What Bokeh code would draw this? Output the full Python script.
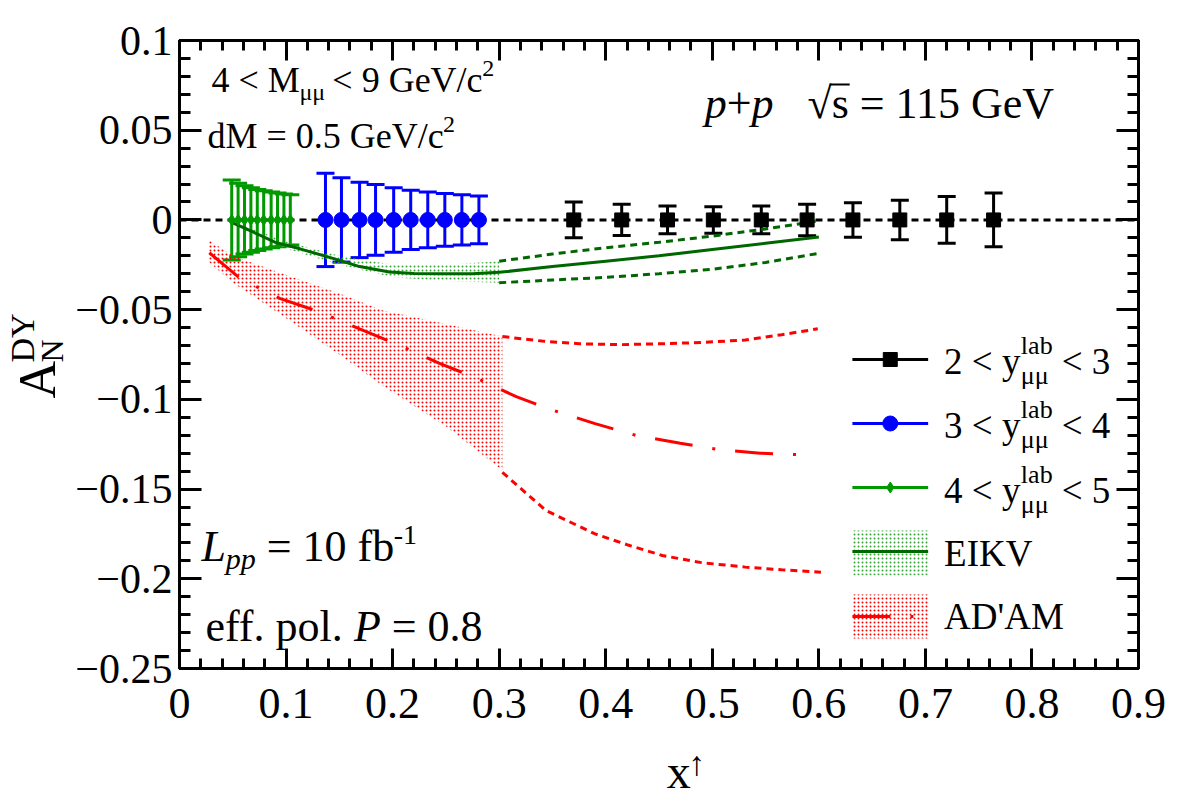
import numpy as np
from bokeh.plotting import figure
from bokeh.layouts import row, column
from bokeh.models import (Range1d, LinearAxis, FixedTicker, Label, Whisker,
                          TeeHead, ColumnDataSource, CustomLabelingPolicy)
from bokeh.embed import file_html
from bokeh.resources import INLINE

# ---------------- axis ticks ----------------
x_major = [0.0, 0.1, 0.2, 0.3, 0.4, 0.5, 0.6, 0.7, 0.8, 0.9]
x_labels = ["0", "0.1", "0.2", "0.3", "0.4", "0.5", "0.6", "0.7", "0.8", "0.9"]
y_major = [-0.25, -0.2, -0.15, -0.1, -0.05, 0.0, 0.05, 0.1]
y_labels = ["\u22120.25", "\u22120.2", "\u22120.15", "\u22120.1", "\u22120.05", "0", "0.05", "0.1"]

# ---------------- projected data points ----------------
# 2 < y_lab < 3
x_y23 = [0.370, 0.415, 0.458, 0.501, 0.546, 0.589, 0.632, 0.676, 0.720, 0.764]
a_y23 = [0.0, 0.0, 0.0, 0.0, 0.0, 0.0, 0.0, 0.0, 0.0, 0.0]
e_y23 = [0.0100, 0.0087, 0.0077, 0.0074, 0.0077, 0.0088, 0.0096, 0.0110, 0.0130, 0.0150]
# 3 < y_lab < 4
x_y34 = [0.137, 0.152, 0.169, 0.184, 0.201, 0.217, 0.233, 0.249, 0.265, 0.281]
a_y34 = [0.0, 0.0, 0.0, 0.0, 0.0, 0.0, 0.0, 0.0, 0.0, 0.0]
e_y34 = [0.0260, 0.0235, 0.0210, 0.0197, 0.0180, 0.0165, 0.0155, 0.0147, 0.0140, 0.0133]
# 4 < y_lab < 5
x_y45 = [0.049, 0.055, 0.061, 0.067, 0.073, 0.079, 0.086, 0.092, 0.098, 0.104]
a_y45 = [0.0, 0.0, 0.0, 0.0, 0.0, 0.0, 0.0, 0.0, 0.0, 0.0]
e_y45 = [0.0223, 0.0205, 0.0190, 0.0180, 0.0170, 0.0162, 0.0155, 0.0150, 0.0145, 0.0140]

# ---------------- EIKV prediction ----------------
eikv_x = [0.05, 0.07, 0.09, 0.113, 0.144, 0.169, 0.197, 0.22, 0.244, 0.275, 0.30,
          0.35, 0.40, 0.45, 0.50, 0.55, 0.60]
eikv_y = [-0.0017, -0.0070, -0.0125, -0.0161, -0.0214, -0.0260, -0.0290, -0.0298, -0.0300,
          -0.0300, -0.0292, -0.0260, -0.0230, -0.0200, -0.0165, -0.0130, -0.0095]
eikv_band_x = [0.05, 0.10, 0.15, 0.20, 0.25, 0.30]
eikv_band_lo = [-0.0025, -0.0160, -0.0250, -0.0320, -0.0340, -0.0350]
eikv_band_hi = [-0.0010, -0.0120, -0.0200, -0.0250, -0.0250, -0.0230]
eikv_ext_x = [0.30, 0.35, 0.40, 0.45, 0.50, 0.55, 0.60]
eikv_ext_hi = [-0.0230, -0.0190, -0.0155, -0.0125, -0.0090, -0.0050, -0.0005]
eikv_ext_lo = [-0.0350, -0.0335, -0.0320, -0.0300, -0.0275, -0.0237, -0.0186]

# ---------------- AD'AM prediction ----------------
adam_x = [0.028, 0.057, 0.094, 0.130, 0.169, 0.203, 0.244, 0.277, 0.316, 0.350, 0.390,
          0.428, 0.470, 0.506, 0.545, 0.587]
adam_y = [-0.0183, -0.0326, -0.0437, -0.0510, -0.0607, -0.0690, -0.0800, -0.0877, -0.0985,
          -0.1060, -0.1135, -0.1200, -0.1245, -0.1280, -0.1300, -0.1310]
adam_band_x = [0.027, 0.050, 0.097, 0.150, 0.191, 0.250, 0.303]
adam_band_hi = [-0.0110, -0.0200, -0.0300, -0.0410, -0.0505, -0.0580, -0.0650]
adam_band_lo = [-0.0230, -0.0350, -0.0535, -0.0750, -0.0925, -0.1150, -0.1395]
adam_hi_x = [0.303, 0.340, 0.375, 0.415, 0.453, 0.490, 0.531, 0.565, 0.599]
adam_hi_y = [-0.0650, -0.0675, -0.0690, -0.0695, -0.0690, -0.0683, -0.0669, -0.0640, -0.0607]
adam_lo_x = [0.303, 0.344, 0.390, 0.420, 0.453, 0.490, 0.531, 0.565, 0.602]
adam_lo_y = [-0.1407, -0.1620, -0.1750, -0.1810, -0.1870, -0.1910, -0.1935, -0.1950, -0.1963]

FONT = "Liberation Serif"
BLACK = "#000000"
BLUE = "#0000ff"
GREEN = "#009900"
DKGREEN = "#006600"
RED = "#ff0000"

XMIN, XMAX, YMIN, YMAX = 0.0, 0.9, -0.25, 0.1
W, H = 1182, 803
YT_W = 72                 # width of the strip holding the y-axis title
XT_H = 63                 # height of the strip holding the x-axis title
FL, FR, FT, FB = 176, 1138, 40, 668   # frame edges on the page
MAIN_W, MAIN_H = W - YT_W, H - XT_H
DESC = 0.32               # Label anchor sits this many ems below the baseline

p = figure(width=MAIN_W, height=MAIN_H, x_range=Range1d(XMIN, XMAX),
           y_range=Range1d(YMIN, YMAX), output_backend="svg", toolbar_location=None,
           min_border_left=FL - YT_W, min_border_right=W - FR, min_border_top=FT,
           min_border_bottom=MAIN_H - FB)
p.grid.visible = False
p.outline_line_color = "black"
p.outline_line_width = 3
p.background_fill_color = "white"
p.border_fill_color = "white"


def sx(px):
    """page pixel -> data x"""
    return XMIN + (px - FL) / (FR - FL) * (XMAX - XMIN)


def sy(py):
    """page pixel -> data y"""
    return YMAX - (py - FT) / (FB - FT) * (YMAX - YMIN)


NO_LABELS = CustomLabelingPolicy(
    code="for (let i = 0; i < indices.size; i++) { indices.set(i, false) } return indices")


def style_axis(ax, ticks, minor, labels, major_len, minor_len, size=42, standoff=7):
    ax.ticker = FixedTicker(ticks=ticks, minor_ticks=minor)
    ax.axis_line_width = 3
    ax.major_tick_line_width = 3
    ax.minor_tick_line_width = 3
    ax.major_tick_in = major_len
    ax.major_tick_out = 0
    ax.minor_tick_in = minor_len
    ax.minor_tick_out = 0
    if labels is not None:
        ax.major_label_overrides = dict(zip(ticks, labels))
        ax.major_label_text_font = FONT
        ax.major_label_text_font_size = f"{size}px"
        ax.major_label_text_color = "black"
        ax.major_label_standoff = standoff
    else:
        ax.major_label_policy = NO_LABELS
        ax.major_label_text_font_size = "1px"
        ax.major_label_standoff = 0


x_minor = [round(0.02 * i, 2) for i in range(46)]
y_minor = [round(-0.25 + 0.01 * i, 2) for i in range(36)]

top_axis = LinearAxis()
right_axis = LinearAxis()
p.add_layout(top_axis, "above")
p.add_layout(right_axis, "right")
style_axis(p.below[0], x_major, x_minor, x_labels, 20, 10, size=44, standoff=20)
style_axis(top_axis, x_major, x_minor, None, 20, 10)
style_axis(p.left[0], y_major, y_minor, y_labels, 22, 11)
style_axis(right_axis, y_major, y_minor, None, 22, 11)

HATCH_RED = dict(fill_color=None, hatch_pattern="dot", hatch_color=RED, hatch_scale=4,
                 hatch_weight=2)
HATCH_GREEN = dict(fill_color=None, hatch_pattern="dot", hatch_color="#33aa33",
                   hatch_scale=4, hatch_weight=0.5)

# ---------------- theory bands & curves ----------------
p.varea(x=adam_band_x, y1=adam_band_lo, y2=adam_band_hi, **HATCH_RED)
p.varea(x=eikv_band_x, y1=eikv_band_lo, y2=eikv_band_hi, **HATCH_GREEN)

p.line(adam_hi_x, adam_hi_y, line_color=RED, line_width=3, line_dash="7 5")
p.line(adam_lo_x, adam_lo_y, line_color=RED, line_width=3, line_dash="7 5")
p.line(adam_x, adam_y, line_color=RED, line_width=3, line_dash="38 20 3 20")

p.line(eikv_ext_x, eikv_ext_hi, line_color=DKGREEN, line_width=3, line_dash="7 5")
p.line(eikv_ext_x, eikv_ext_lo, line_color=DKGREEN, line_width=3, line_dash="7 5")
p.line(eikv_x, eikv_y, line_color=DKGREEN, line_width=3)

# zero line
p.line([XMIN, XMAX], [0.0, 0.0], line_color=BLACK, line_width=3, line_dash="7 5")


# ---------------- data points with error bars ----------------
def points(xs, ys, es, color, marker, size):
    src = ColumnDataSource(dict(x=xs, y=ys,
                                lo=[a - e for a, e in zip(ys, es)],
                                hi=[a + e for a, e in zip(ys, es)]))
    w = Whisker(source=src, base="x", lower="lo", upper="hi", dimension="height",
                line_color=color, line_width=3,
                upper_head=TeeHead(size=18, line_color=color, line_width=3),
                lower_head=TeeHead(size=18, line_color=color, line_width=3))
    p.add_layout(w)
    p.scatter("x", "y", source=src, marker=marker, size=size, fill_color=color,
              line_color=color)


points(x_y45, a_y45, e_y45, GREEN, "diamond", 11)
points(x_y34, a_y34, e_y34, BLUE, "circle", 15)
points(x_y23, a_y23, e_y23, BLACK, "square", 14)

# ---------------- text helpers ----------------
ROMAN = {" ": .25, "+": .564, "-": .333, ".": .25, "/": .278, "<": .564, "=": .564,
         "A": .722, "D": .722, "E": .611, "G": .722, "I": .333, "K": .722, "M": .889,
         "N": .722, "V": .722, "Y": .722, "'": .18, "a": .444, "b": .5, "c": .444,
         "d": .5, "e": .444, "f": .333, "l": .278, "o": .5, "p": .5, "s": .389,
         "\u03bc": .5, "\u221a": .549}
ITALIC = {"p": .5, "L": .556, "P": .611}


def width(s, size, italic=False):
    table = ITALIC if italic else ROMAN
    return sum(table.get(c, ROMAN.get(c, .5)) for c in s) * size


def label(fig, s, x, y, size, italic=False, angle=0.0):
    fig.add_layout(Label(x=x, y=y, text=s, text_font=FONT, text_font_size=f"{size}px",
                         text_font_style="italic" if italic else "normal",
                         text_baseline="alphabetic", text_align="left", angle=angle,
                         text_color="black"))


def txt(s, px, py, size, italic=False):
    """text with its baseline at page pixel (px, py)"""
    label(p, s, sx(px), sy(py - DESC * size), size, italic)


def chain(px, py, pieces):
    """place consecutive text pieces: (text, size, italic, baseline shift)"""
    for s, size, it, shift in pieces:
        lead = len(s) - len(s.lstrip(" "))
        px += lead * ROMAN[" "] * size
        body = s.strip(" ")
        txt(body, px, py + shift, size, it)
        px += width(s.lstrip(" "), size, it)


# kinematic cuts
chain(208, 91, [("4 < M", 36, False, 0), ("\u03bc\u03bc", 24, False, 8),
                (" < 9 GeV/c", 36, False, 0), ("2", 24, False, -15)])
chain(204, 147, [("dM = 0.5 GeV/c", 36, False, 0), ("2", 24, False, -15)])

# collision system, with the bar of the square root over "s"
chain(703, 117, [("p", 44, True, 0), ("+", 44, False, 0), ("p", 44, True, 0)])
chain(806, 117, [("\u221as = 115 GeV", 44, False, 0)])
root_end = 806 + width("\u221a", 44)
p.line([sx(root_end - 2), sx(root_end + width("s", 44) + 1)], [sy(84), sy(84)],
       line_color="black", line_width=2)

# luminosity & polarization
chain(198, 560, [("L", 44, True, 0), ("pp", 30, True, 8), (" = 10 fb", 44, False, 0),
                 ("-1", 28, False, -17)])
chain(202, 640, [("eff. pol. ", 44, False, 0), ("P", 44, True, 0), (" = 0.8", 44, False, 0)])

# ---------------- legend ----------------
LX0, LX1, LXC = sx(851), sx(927), sx(889)
rows = [(359, 373, BLACK, "square", 14, "2", "3"),
        (423, 437, BLUE, "circle", 15, "3", "4"),
        (487, 502, GREEN, "diamond", 11, "4", "5")]
for ym, yb, col, mk, sz, lo_lab, hi_lab in rows:
    p.line([LX0, LX1], [sy(ym), sy(ym)], line_color=col, line_width=3)
    p.scatter([LXC], [sy(ym)], marker=mk, size=sz, fill_color=col, line_color=col)
    txt(f"{lo_lab} < y", 943, yb, 37)
    txt("lab", 1020, yb - 20, 26)
    txt("\u03bc\u03bc", 1020, yb + 10, 26)
    txt(f"< {hi_lab}", 1061, yb, 37)

p.quad(left=[LX0], right=[LX1], top=[sy(530)], bottom=[sy(575)], line_color=None,
       **HATCH_GREEN)
p.line([LX0, LX1], [sy(551), sy(551)], line_color=DKGREEN, line_width=3)
txt("EIKV", 943, 565, 37)

p.quad(left=[LX0], right=[LX1], top=[sy(594)], bottom=[sy(638)], line_color=None,
       **HATCH_RED)
p.line([LX0, LX1], [sy(616), sy(616)], line_color=RED, line_width=3, line_dash="38 20 3 20")
txt("AD'AM", 943, 628, 37)


# ---------------- axis titles (in their own strips) ----------------
def strip(w, h):
    f = figure(width=w, height=h, x_range=Range1d(0, w), y_range=Range1d(0, h),
               output_backend="svg", toolbar_location=None, min_border=0,
               x_axis_type=None, y_axis_type=None)
    f.outline_line_color = None
    f.grid.visible = False
    f.background_fill_color = "white"
    f.border_fill_color = "white"
    return f


def vtxt(fig, s, bx, py, size):
    """text rotated to read upwards, baseline at page x = bx, starting at page y = py"""
    label(fig, s, bx - DESC * size, H - py, size, angle=np.pi / 2)


ytitle = strip(YT_W, H)
vtxt(ytitle, "A", 54, 398, 52)
vtxt(ytitle, "N", 62, 362, 32)
vtxt(ytitle, "DY", 33, 362, 34)

xtitle = strip(MAIN_W, XT_H)
label(xtitle, "x", 636 - YT_W, H - 786 + DESC * 48, 48)
label(xtitle, "\u2191", 661 - YT_W, H - 774 + DESC * 34, 34)

page = row(ytitle, column(p, xtitle, spacing=0), spacing=0)

open("out.html", "w").write(file_html(page, INLINE))
